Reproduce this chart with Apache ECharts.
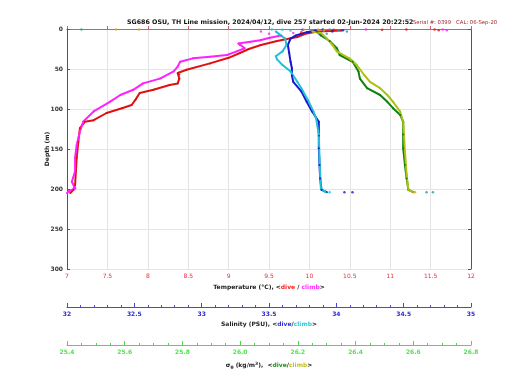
<!DOCTYPE html>
<html><head><meta charset="utf-8">
<script src="https://cdn.jsdelivr.net/npm/echarts@6/dist/echarts.min.js"></script>
<style>html,body{margin:0;padding:0;background:#fff}#c{width:520px;height:390px}</style>
</head><body><div id="c"></div>
<script>
// ---- data ----
const tempTicks = [7, 7.5, 8, 8.5, 9, 9.5, 10, 10.5, 11, 11.5, 12];
const depthTicks = [0, 50, 100, 150, 200, 250, 300];

const tempDiveDepth = [2, 3, 6, 10, 15, 20, 25, 30, 36, 43, 51, 55, 57, 62, 68, 70, 76, 80, 88, 95, 99, 105, 114, 116, 124, 141, 161, 178, 195, 201, 205];
const tempDive      = [10.4, 10.1, 9.95, 9.85, 9.6, 9.4, 9.25, 9.14, 9.0, 8.77, 8.48, 8.37, 8.39, 8.39, 8.37, 8.27, 8.07, 7.9, 7.85, 7.8, 7.68, 7.49, 7.33, 7.22, 7.16, 7.14, 7.12, 7.11, 7.1, 7.08, 7.04];
const tempClimbDepth = [8, 11, 14, 16, 18, 20, 24, 28, 32.5, 34.6, 36.7, 41, 47, 53, 62, 68, 76, 82.5, 91, 103, 116, 128, 145, 161, 178, 191, 199, 203, 205];
const tempClimb      = [9.65, 9.51, 9.39, 9.27, 9.12, 9.14, 9.2, 9.1, 8.98, 8.77, 8.56, 8.4, 8.37, 8.32, 8.15, 7.94, 7.82, 7.66, 7.53, 7.33, 7.2, 7.16, 7.12, 7.1, 7.1, 7.06, 7.1, 7.02, 7.0];

const salDiveDepth = [2, 4, 8, 12, 20, 30, 41, 49, 58, 66, 78, 91, 103, 116, 133, 149, 170, 187, 201, 204];
const salDive      = [33.85, 33.78, 33.7, 33.66, 33.64, 33.65, 33.66, 33.67, 33.67, 33.68, 33.74, 33.78, 33.82, 33.87, 33.87, 33.87, 33.875, 33.88, 33.89, 33.93];
const salClimbDepth = [3, 7, 12, 20, 28, 34, 38, 45, 53, 66, 74, 89, 103, 112, 132, 162, 182, 199, 204];
const salClimb      = [33.55, 33.58, 33.62, 33.63, 33.6, 33.55, 33.56, 33.6, 33.66, 33.71, 33.74, 33.79, 33.83, 33.85, 33.87, 33.875, 33.88, 33.885, 33.92];

const sigDiveDepth = [3, 8, 15, 24, 32.5, 41, 53, 62, 74, 82.5, 91, 99, 107.5, 116, 132, 149, 170, 187, 201, 204];
const sigDive      = [26.265, 26.28, 26.31, 26.335, 26.345, 26.39, 26.41, 26.415, 26.44, 26.485, 26.51, 26.53, 26.555, 26.565, 26.565, 26.565, 26.571, 26.577, 26.583, 26.6];
const sigClimbDepth = [3, 5, 11.7, 20, 28, 37, 45, 57.5, 66, 74, 82.5, 91, 103, 116, 153, 182, 201, 204];
const sigClimb      = [26.25, 26.28, 26.3, 26.32, 26.335, 26.38, 26.404, 26.43, 26.45, 26.485, 26.51, 26.53, 26.554, 26.565, 26.571, 26.577, 26.583, 26.6];

// scattered samples near the surface and bottom
const tempDiveDotsT = [10.9, 11.2, 11.55, 11.6, 10.3, 9.9];
const tempDiveDotsD = [1, 0.5, 0.5, 1.5, 1, 4];
const tempClimbDotsT = [11.65, 11.7, 10.7, 9.8, 9.4, 9.5, 7.1];
const tempClimbDotsD = [0.5, 1.5, 0.5, 5, 3, 6, 199];
const salDiveDotsS = [33.75, 33.9, 34.05, 33.97, 34.06, 34.12];
const salDiveDotsD = [1, 0.5, 1.5, 3, 204, 204];
const salClimbDotsS = [33.52, 33.6, 33.66, 33.95];
const salClimbDotsD = [0.5, 1, 2, 204];
const sigDiveDotsS = [26.31, 26.34, 26.37, 26.3, 26.646, 26.668, 25.45];
const sigDiveDotsD = [0.5, 1.5, 3, 6, 204, 204, 0.5];
const sigClimbDotsS = [26.22, 26.27, 26.29, 26.606, 25.57, 25.65];
const sigClimbDotsD = [1, 0.5, 2, 204, 0.5, 0.5];

const titleText = 'SG686 OSU, TH Line mission, 2024/04/12, dive 257 started 02-Jun-2024 20:22:52';
const serialText = 'Serial #: 0399   CAL: 06-Sep-20';
const depthName = 'Depth (m)';

// ---- chart ----
const pair = (vals, depths) => vals.map((v, i) => [v, depths[i]]);
const F = 'DejaVu Sans';
const chart = echarts.init(document.getElementById('c'), null, {renderer: 'canvas'});

function lineSeries(name, xi, data, color) {
  return {name, type: 'line', xAxisIndex: xi, yAxisIndex: 0, data, showSymbol: true, symbol: 'circle', symbolSize: 2,
    itemStyle: {color}, lineStyle: {color, width: 2}, animation: false, silent: true, z: 3};
}
function dotSeries(name, xi, data, color) {
  return {name, type: 'scatter', xAxisIndex: xi, yAxisIndex: 0, data, symbol: 'circle', symbolSize: 2.5,
    itemStyle: {color}, animation: false, silent: true, z: 3};
}

const nameStyle = (rich) => ({fontFamily: F, fontSize: 6, fontWeight: 'bold', color: '#222', rich});

chart.setOption({
  animation: false,
  title: [
    {text: titleText, left: 122, top: 14, textStyle: {fontFamily: F, fontSize: 6.3, fontWeight: 'bold', color: '#111'}},
    {text: serialText, left: 408, top: 15, textStyle: {fontFamily: F, fontSize: 5.3, fontWeight: 'normal', color: '#a02828'}}
  ],
  graphic: [
    {type: 'text', x: 47, y: 149, rotation: Math.PI / 2,
     style: {text: depthName, fontFamily: F, fontSize: 6, fontWeight: 'bold', fill: '#222', align: 'center', verticalAlign: 'middle'}}
  ],
  grid: {left: 67, right: 49, top: 29, bottom: 121, containLabel: false},
  xAxis: [
    {type: 'value', position: 'bottom', min: 7, max: 12, interval: 0.5,
     axisLine: {lineStyle: {color: '#d85868', width: 1}}, axisTick: {inside: true, length: 3, lineStyle: {color: '#d85868'}},
     axisLabel: {fontFamily: F, fontSize: 6, color: '#e03040', margin: 4, formatter: v => String(v)},
     splitLine: {show: true, lineStyle: {color: '#e4e4e4', width: 1}},
     name: '{b|Temperature (°C), <}{r|dive}{b| / }{m|climb}{b|>}', nameLocation: 'middle', nameGap: 15,
     nameTextStyle: nameStyle({b: {fontFamily: F, fontSize: 6, fontWeight: 'bold', color: '#222'}, r: {fontFamily: F, fontSize: 6, fontWeight: 'bold', color: '#ff2020'}, m: {fontFamily: F, fontSize: 6, fontWeight: 'bold', color: '#ff30ff'}})},
    {type: 'value', position: 'top', min: 7, max: 12, interval: 0.5,
     axisLine: {lineStyle: {color: '#d85868', width: 1}}, axisTick: {show: false}, axisLabel: {show: false}, splitLine: {show: false}},
    {type: 'value', position: 'bottom', offset: 38, min: 32, max: 35, interval: 0.5,
     axisLine: {lineStyle: {color: '#4848d0', width: 1}}, axisTick: {inside: true, length: 4, lineStyle: {color: '#4848d0'}},
     minorTick: {show: true, splitNumber: 5, length: 2, lineStyle: {color: '#4848d0'}},
     axisLabel: {fontFamily: F, fontSize: 6, fontWeight: 'bold', color: '#2828c8', margin: 4, formatter: v => String(v)},
     splitLine: {show: false},
     name: '{b|Salinity (PSU), <}{d|dive}{b|/}{c|climb}{b|>}', nameLocation: 'middle', nameGap: 14,
     nameTextStyle: nameStyle({b: {fontFamily: F, fontSize: 6, fontWeight: 'bold', color: '#222'}, d: {fontFamily: F, fontSize: 6, fontWeight: 'bold', color: '#3030e0'}, c: {fontFamily: F, fontSize: 6, fontWeight: 'bold', color: '#30c8d8'}})},
    {type: 'value', position: 'bottom', offset: 76, min: 25.4, max: 26.8, interval: 0.2,
     axisLine: {lineStyle: {color: '#50d850', width: 1}}, axisTick: {inside: true, length: 4, lineStyle: {color: '#50d850'}},
     minorTick: {show: true, splitNumber: 4, length: 2, lineStyle: {color: '#50d850'}},
     axisLabel: {fontFamily: F, fontSize: 6, fontWeight: 'bold', color: '#50e050', margin: 4, formatter: v => v.toFixed(1)},
     splitLine: {show: false},
     name: '{b|σ}{s|θ}{b| (kg/m}{p|3}{b|),  <}{d|dive}{b|/}{c|climb}{b|>}', nameLocation: 'middle', nameGap: 16,
     nameTextStyle: nameStyle({b: {fontFamily: F, fontSize: 6, fontWeight: 'bold', color: '#222'}, s: {fontFamily: F, fontSize: 4.5, fontWeight: 'bold', color: '#222', padding: [4, 0, 0, 0]}, p: {fontFamily: F, fontSize: 4.5, fontWeight: 'bold', color: '#222', padding: [0, 0, 4, 0]}, d: {fontFamily: F, fontSize: 6, fontWeight: 'bold', color: '#209020'}, c: {fontFamily: F, fontSize: 6, fontWeight: 'bold', color: '#c0c020'}})}
  ],
  yAxis: [
    {type: 'value', inverse: true, min: 0, max: 300, interval: 50, position: 'left',
     axisLine: {show: true, lineStyle: {color: '#555', width: 1}}, axisTick: {show: true, inside: true, length: 3, lineStyle: {color: '#555'}},
     axisLabel: {fontFamily: F, fontSize: 6, fontWeight: 'bold', color: '#333', margin: 4},
     splitLine: {show: true, lineStyle: {color: '#e4e4e4', width: 1}}},
    {type: 'value', inverse: true, min: 0, max: 300, interval: 50, position: 'right',
     axisLine: {show: true, lineStyle: {color: '#555', width: 1}}, axisTick: {show: true, inside: true, length: 3, lineStyle: {color: '#555'}},
     axisLabel: {show: false}, splitLine: {show: false}}
  ],
  series: [
    lineSeries('Temp dive', 0, pair(tempDive, tempDiveDepth), '#e01010'),
    dotSeries('Temp dive dots', 0, pair(tempDiveDotsT, tempDiveDotsD), '#e01010'),
    lineSeries('Temp climb', 0, pair(tempClimb, tempClimbDepth), '#ff20ff'),
    dotSeries('Temp climb dots', 0, pair(tempClimbDotsT, tempClimbDotsD), '#ff20ff'),
    lineSeries('Sal dive', 2, pair(salDive, salDiveDepth), '#1818d0'),
    dotSeries('Sal dive dots', 2, pair(salDiveDotsS, salDiveDotsD), '#1818d0'),
    lineSeries('Sal climb', 2, pair(salClimb, salClimbDepth), '#20c0d8'),
    dotSeries('Sal climb dots', 2, pair(salClimbDotsS, salClimbDotsD), '#20c0d8'),
    lineSeries('Sig dive', 3, pair(sigDive, sigDiveDepth), '#108010'),
    dotSeries('Sig dive dots', 3, pair(sigDiveDotsS, sigDiveDotsD), '#20a0a0'),
    lineSeries('Sig climb', 3, pair(sigClimb, sigClimbDepth), '#b0c010'),
    dotSeries('Sig climb dots', 3, pair(sigClimbDotsS, sigClimbDotsD), '#e0a020')
  ]
});
</script></body></html>
